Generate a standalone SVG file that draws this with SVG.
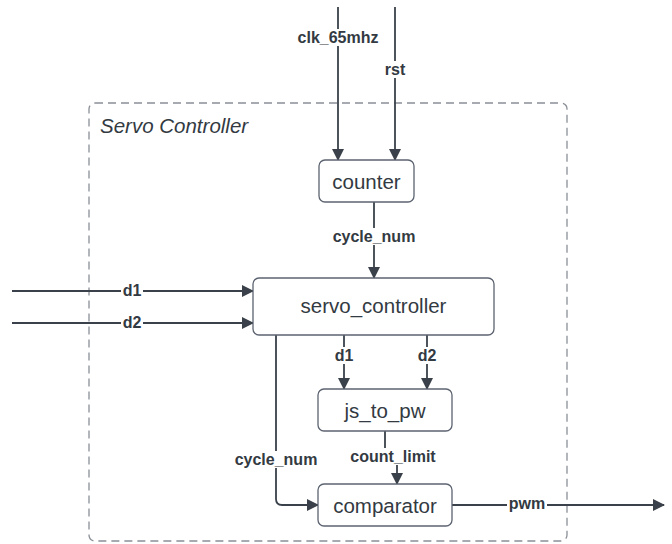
<svg xmlns="http://www.w3.org/2000/svg" width="672" height="544" viewBox="0 0 672 544">
<defs>
<marker id="ah" viewBox="0 0 12 12" refX="11" refY="6" markerWidth="12" markerHeight="12" markerUnits="userSpaceOnUse" orient="auto">
<path d="M0,0 L12,6 L0,12 Z" fill="#3a414a"/>
</marker>
<style>
.box{fill:#fff;stroke:#5c6370;stroke-width:1.3}
.bt{font-family:"Liberation Sans",Arial,sans-serif;font-size:20.5px;fill:#333a42;text-anchor:middle;dominant-baseline:central}
.w{fill:none;stroke:#3a414a;stroke-width:1.8}
.lb{font-family:"Liberation Sans",Arial,sans-serif;font-size:16px;font-weight:bold;fill:#333a42;text-anchor:middle;dominant-baseline:central}
.bg{fill:#fff}
</style>
</defs>
<rect width="672" height="544" fill="#fff"/>
<g id="container">
<rect x="89" y="103" width="478" height="438" rx="6" fill="none" stroke="#8a8f96" stroke-width="1.3" stroke-dasharray="8,5"/>
<text x="100" y="133" font-family="'Liberation Sans',Arial,sans-serif" font-size="20.5" font-style="italic" fill="#333a42">Servo Controller</text>
</g>
<g id="connectors">
<path class="w" d="M338 7 V160" marker-end="url(#ah)"/>
<path class="w" d="M395 7 V160" marker-end="url(#ah)"/>
<path class="w" d="M374 202 V278" marker-end="url(#ah)"/>
<path class="w" d="M12 291 H253" marker-end="url(#ah)"/>
<path class="w" d="M12 323 H253" marker-end="url(#ah)"/>
<path class="w" d="M344 335 V389" marker-end="url(#ah)"/>
<path class="w" d="M427 335 V389" marker-end="url(#ah)"/>
<path class="w" d="M385 431 V457 H397 V484" marker-end="url(#ah)"/>
<path class="w" d="M276 335 V499 Q276 505 282 505 H318" marker-end="url(#ah)"/>
<path class="w" d="M452 505 H664" marker-end="url(#ah)"/>
<g>
<rect class="bg" x="296" y="29" width="84" height="17"/>
<text class="lb" x="338" y="37">clk_65mhz</text>
<rect class="bg" x="383" y="61" width="24" height="17"/>
<text class="lb" x="395" y="69">rst</text>
<rect class="bg" x="331" y="228" width="86" height="17"/>
<text class="lb" x="374" y="236">cycle_num</text>
<rect class="bg" x="121" y="282" width="22" height="17"/>
<text class="lb" x="132" y="290">d1</text>
<rect class="bg" x="121" y="314" width="22" height="17"/>
<text class="lb" x="132" y="322">d2</text>
<rect class="bg" x="333" y="347" width="22" height="17"/>
<text class="lb" x="344" y="355">d1</text>
<rect class="bg" x="416" y="347" width="22" height="17"/>
<text class="lb" x="427" y="355">d2</text>
<rect class="bg" x="349" y="448" width="88" height="17"/>
<text class="lb" x="393" y="456">count_limit</text>
<rect class="bg" x="233" y="451" width="86" height="17"/>
<text class="lb" x="276" y="459">cycle_num</text>
<rect class="bg" x="507" y="495" width="40" height="17"/>
<text class="lb" x="527" y="503">pwm</text>
</g>
</g>
<g id="counter">
<rect class="box" x="319" y="160" width="95" height="42" rx="6"/>
<text class="bt" x="366.5" y="181">counter</text>
</g>
<g id="servo_controller">
<rect class="box" x="253" y="278" width="241" height="57" rx="6"/>
<text class="bt" x="373.5" y="305">servo_controller</text>
</g>
<g id="js_to_pw">
<rect class="box" x="318" y="389" width="134" height="42" rx="6"/>
<text class="bt" x="385" y="410">js_to_pw</text>
</g>
<g id="comparator">
<rect class="box" x="318" y="484" width="134" height="42" rx="6"/>
<text class="bt" x="385" y="505">comparator</text>
</g>
</svg>
